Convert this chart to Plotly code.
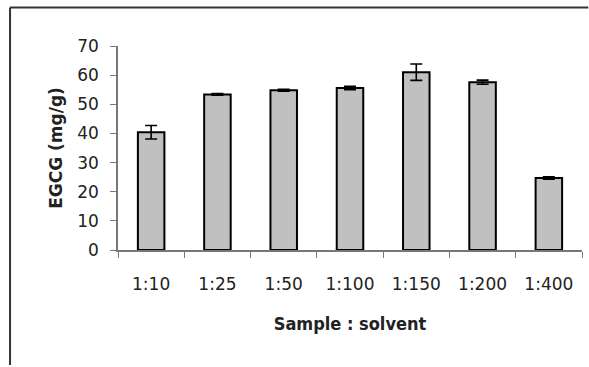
import plotly.graph_objects as go

categories = ["1:10", "1:25", "1:50", "1:100", "1:150", "1:200", "1:400"]
egcg = [40.4, 53.4, 54.8, 55.6, 61.0, 57.6, 24.7]
errors = [2.3, 0.3, 0.3, 0.6, 2.8, 0.7, 0.4]
y_ticks = [0, 10, 20, 30, 40, 50, 60, 70]

W, H = 589, 367
L, R, T, B = 117.5, 7.3, 45.7, 116.5

fig = go.Figure(go.Bar(
    x=categories, y=egcg,
    marker=dict(color="#c0c0c0", line=dict(color="black", width=2)),
    error_y=dict(type="data", array=errors, visible=True, color="black", thickness=1.6, width=6),
    width=0.4,
))

pw = W - L - R
ph = H - T - B
def px_x(x):
    return (x - L) / pw
def px_y(y):
    return (H - B - y) / ph

# outer frame: left and top edges (right/bottom run past the picture)
fig.add_shape(type="line", xref="paper", yref="paper", layer="above",
              x0=px_x(9.5), x1=px_x(W - 1), y0=px_y(7), y1=px_y(7),
              line=dict(color="#333333", width=2))
fig.add_shape(type="line", xref="paper", yref="paper", layer="above",
              x0=px_x(9.5), x1=px_x(9.5), y0=px_y(7), y1=px_y(H - 1),
              line=dict(color="#333333", width=2))

fig.update_layout(
    width=W, height=H,
    margin=dict(l=L, r=R, t=T, b=B, pad=0),
    paper_bgcolor="white", plot_bgcolor="white",
    showlegend=False,
    font=dict(family="DejaVu Sans", size=17, color="#222"),
    xaxis=dict(
        type="category", tickson="boundaries", ticks="outside", ticklen=6, tickcolor="#777",
        showline=True, linecolor="#777", linewidth=1.5, showgrid=False,
        ticklabelstandoff=18,
        tickfont=dict(family="DejaVu Sans", size=17, color="#222"),
        title=dict(text="<b>Sample : solvent</b>", standoff=24,
                   font=dict(family="DejaVu Sans Condensed", size=18, color="#222")),
    ),
    yaxis=dict(
        range=[0, 70], tickvals=y_ticks, ticks="outside", ticklen=6, tickcolor="#777",
        showline=True, linecolor="#777", linewidth=1.5, showgrid=False, zeroline=False,
        ticklabelstandoff=8,
        tickfont=dict(family="DejaVu Sans", size=17, color="#222"),
        title=dict(text="<b>EGCG (mg/g)</b>", standoff=10,
                   font=dict(family="DejaVu Sans", size=17, color="#222")),
    ),
)

fig.write_html("out.html", config={"displayModeBar": False},
               post_script="document.body.style.margin='0';document.body.style.overflow='hidden';window.scrollTo(0,0);")
